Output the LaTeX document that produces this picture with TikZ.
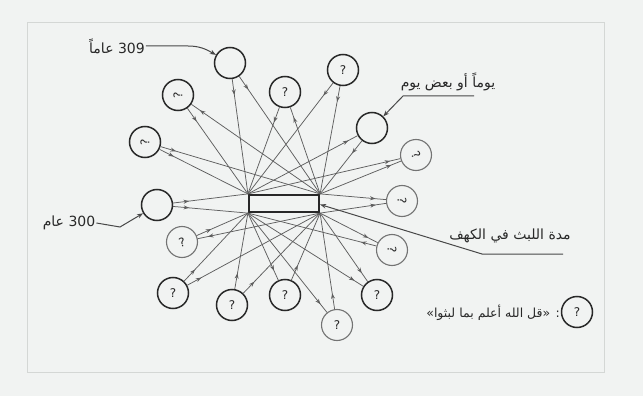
\documentclass[tikz,border=0pt]{standalone}
\usepackage{fontspec}
\usetikzlibrary{arrows.meta,decorations.markings}
\setmainfont{DejaVu Sans}
\newfontfamily\arabicfont[Script=Arabic]{DejaVu Sans}
\TeXXeTstate=1
\definecolor{bgc}{RGB}{241,243,242}
\definecolor{linec}{RGB}{95,95,95}
\definecolor{ink}{RGB}{40,40,40}
\definecolor{framec}{RGB}{212,215,213}
\begin{document}
\begin{tikzpicture}[x=1pt,y=-1pt,
  circ/.style={circle,draw=ink,line width=1.5pt,minimum size=31pt,inner sep=0pt,text=ink,font=\fontsize{12}{12}\selectfont},
  circl/.style={circ,draw=ink!65,line width=1.1pt},
  ln/.style={draw=linec,line width=0.75pt},
  tor/.style={ln,postaction={decorate},decoration={markings,mark=at position #1 with {\arrow{Stealth[length=5.5pt,width=4pt]}}}},
  toc/.style={ln,postaction={decorate},decoration={markings,mark=at position #1 with {\arrow{Stealth[length=5.5pt,width=4pt,reversed]}}}},
  tor/.default=16pt, toc/.default=16pt,
  lbl/.style={font=\arabicfont\fontsize{14}{16}\selectfont,text=ink,inner sep=1pt},
  tip/.style={-{Stealth[length=6pt,width=4.5pt]}},
  lead/.style={ln,draw=ink!85,line width=1pt,tip}
]
\fill[bgc] (0,0) rectangle (643,396);
\useasboundingbox (0,0) rectangle (643,396);
\draw[framec,line width=0.8pt] (27,22) rectangle (604,372);

% central box
\node[draw=ink,line width=2.2pt,minimum width=70pt,minimum height=17pt,inner sep=0pt] (box) at (284,203.5) {};

% circles
\node[circ]  (c1)  at (230,63)  {};
\node[circ]  (c17) at (178,95)  {\rotatebox{90}{?}};
\node[circ]  (c3)  at (285,92)  {?};
\node[circ]  (c4)  at (343,70)  {?};
\node[circ]  (c5)  at (372,128) {};
\node[circl] (c6)  at (416,155) {\rotatebox{-60}{?}};
\node[circ]  (c16) at (145,142) {\rotatebox{90}{?}};
\node[circ]  (c15) at (157,205) {};
\node[circl] (c7)  at (402,201) {\rotatebox{-90}{?}};
\node[circl] (c14) at (182,242) {\rotatebox{15}{?}};
\node[circ]  (c13) at (173,293) {?};
\node[circ]  (c12) at (232,305) {?};
\node[circ]  (c11) at (285,295) {?};
\node[circl] (c10) at (337,325) {?};
\node[circ]  (c9)  at (377,295) {?};
\node[circl] (c8)  at (392,250) {\rotatebox{-90}{?}};

% connectors to the box
\draw[tor] (c1)  -- (box.north west);
\draw[tor] (c1)  -- (box.north east);
\draw[tor] (c17) -- (box.north west);
\draw[toc] (c17) -- (box.north east);
\draw[tor] (c3)  -- (box.north west);
\draw[toc] (c3)  -- (box.north east);
\draw[tor] (c4)  -- (box.north west);
\draw[tor] (c4)  -- (box.north east);
\draw[toc] (c5)  -- (box.north west);
\draw[tor] (c5)  -- (box.north east);
\draw[toc] (c6)  -- (box.north west);
\draw[toc] (c6)  -- (box.north east);
\draw[tor] (c16) -- (box.north west);
\draw[tor] (c16) -- (box.north east);
\draw[tor] (c15) -- (box.north west);
\draw[tor] (c15) -- (box.south west);
\draw[toc] (c7)  -- (box.north east);
\draw[toc] (c7)  -- (box.south east);
\draw[tor] (c14) -- (box.south west);
\draw[toc] (c14) -- (box.south east);
\draw[tor] (c13) -- (box.south west);
\draw[tor] (c13) -- (box.south east);
\draw[tor] (c12) -- (box.south west);
\draw[tor] (c12) -- (box.south east);
\draw[toc] (c11) -- (box.south west);
\draw[tor] (c11) -- (box.south east);
\draw[toc] (c10) -- (box.south west);
\draw[tor] (c10) -- (box.south east);
\draw[toc] (c9)  -- (box.south west);
\draw[toc] (c9)  -- (box.south east);
\draw[tor] (c8)  -- (box.south west);
\draw[toc] (c8)  -- (box.south east);

% labels
\node[lbl] (t309) at (117,46) {\beginR عاماً\endR\ 309};
\coordinate (k309) at (188,46);
\draw[lead] (t309.east) -- (k309) to[out=0,in=150] (c1);

\node[lbl] (t300) at (69,223) {\beginR عام\endR\ 300};
\coordinate (k300) at (120,227);
\draw[lead] (t300.east) -- (k300) -- (c15);

\node[lbl] (tyawm) at (448,82) {\beginR يوماً أو بعض يوم\endR};
\coordinate (u1a) at (403,96);
\coordinate (u1b) at (474,96);
\draw[lead] (u1b) -- (u1a) -- (c5);

\node[lbl] (tkahf) at (510,236) {\beginR مدة اللبث في الكهف\endR};
\coordinate (u2a) at (482,254);
\coordinate (u2b) at (563,254);
\draw[lead] (u2b) -- (u2a) -- ([yshift=-1pt]box.east);

% legend
\node[circ] (lg) at (577,312) {?};
\node[lbl,anchor=east,font=\arabicfont\fontsize{12.5}{14}\selectfont] (tlg) at (561,313) {\beginR: «قل الله أعلم بما لبثوا»\endR};
\end{tikzpicture}
\end{document}
